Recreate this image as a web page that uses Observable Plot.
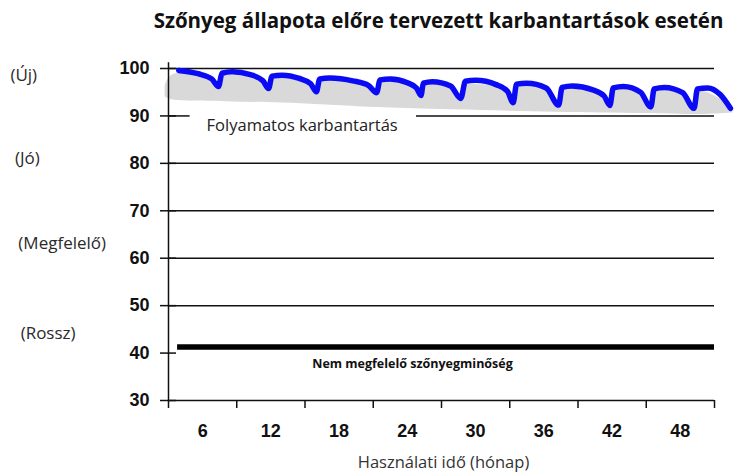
<!DOCTYPE html>
<html><head><meta charset="utf-8">
<script src="https://cdn.jsdelivr.net/npm/d3@7"></script>
<script src="https://cdn.jsdelivr.net/npm/@observablehq/plot@0.6"></script>
<style>body{margin:0;background:#fff} svg{display:block}</style>
</head><body><div id="chart"></div>
<script>
const chartTitle = "Szőnyeg állapota előre tervezett karbantartások esetén";
const xTitle = "Használati idő (hónap)";
const bandLabel = "Folyamatos karbantartás";
const thresholdLabel = "Nem megfelelő szőnyegminőség";
const sideLabels = ["(Új)", "(Jó)", "(Megfelelő)", "(Rossz)"];
const sideLabelLevels = [98.5, 81, 63, 44.2];

const yTicks = [30, 40, 50, 60, 70, 80, 90, 100];
const gridLevels = [50, 60, 70, 80, 100];
const xBoundaries = [0, 6, 12, 18, 24, 30, 36, 42, 48];
const xLabelCenters = [3, 9, 15, 21, 27, 33, 39, 45];
const xLabels = ["6", "12", "18", "24", "30", "36", "42", "48"];
const thresholdLevel = 41.3;

// Blue condition line (month, condition)
const conditionMonths = [0.9, 2.6, 3.8, 4.4, 4.7, 5.6, 7.2, 8.3, 8.8, 9.1, 10.0, 11.5, 12.5, 13.0, 13.3, 14.2, 16.2, 17.6, 18.3, 18.6, 19.5, 21.0, 21.8, 22.2, 22.4, 23.2, 24.8, 25.7, 26.1, 27.0, 28.8, 29.8, 30.3, 30.6, 31.5, 33.2, 34.3, 34.6, 35.5, 37.3, 38.3, 38.8, 39.1, 40.0, 41.5, 42.4, 42.7, 43.6, 45.2, 46.2, 46.5, 47.4, 48.5, 49.4];
const conditionValues = [99.6, 98.9, 97.8, 96.2, 99.0, 99.3, 98.7, 97.4, 95.8, 98.4, 98.6, 97.9, 96.8, 95.1, 97.8, 98.0, 97.4, 96.4, 94.9, 97.6, 97.8, 97.0, 95.9, 94.3, 96.9, 97.2, 96.3, 93.7, 97.3, 97.5, 96.6, 95.2, 92.8, 96.7, 96.9, 95.9, 92.3, 96.0, 96.3, 95.5, 94.2, 92.2, 95.9, 96.2, 95.0, 91.9, 95.7, 96.0, 94.9, 91.6, 95.7, 95.9, 94.5, 91.6];

// Gray band (continuous maintenance)
const bandMonths = [-0.3, 0.3, 5, 10, 17, 25, 34, 42, 47, 49.6];
const bandHigh = [96.3, 98.6, 98.6, 98.0, 97.4, 96.8, 96.1, 95.6, 95.2, 92.0];
const bandLow = [94.0, 93.4, 93.0, 92.7, 91.9, 91.3, 90.8, 90.5, 90.3, 90.6];

const condition = conditionMonths.map((m, i) => ({month: m, value: conditionValues[i]}));
const band = bandMonths.map((m, i) => ({month: m, low: bandLow[i], high: bandHigh[i]}));
const side = sideLabels.map((t, i) => ({text: t, level: sideLabelLevels[i]}));
const sideStart = [-13.9, -13.5, -13.2, -13.0];

const chart = Plot.plot({
  width: 734,
  height: 476,
  marginLeft: 168,
  marginRight: 20,
  marginTop: 68,
  marginBottom: 76,
  style: {fontFamily: "Liberation Sans, Arial, sans-serif", background: "#fff"},
  x: {domain: [0, 48], axis: null},
  y: {domain: [30, 100], axis: null},
  marks: [
    Plot.areaY(band, {x: "month", y1: "low", y2: "high", fill: "#d9d9d9", curve: "catmull-rom"}),
    Plot.areaY(condition, {x: "month", y1: "value", y2: 99.85, fill: "white", curve: "monotone-x"}),
    Plot.ruleY(gridLevels, {x1: 0, x2: 48, stroke: "#111", strokeWidth: 1.5}),
    Plot.ruleY([90], {x1: 0, x2: 1.9, stroke: "#111", strokeWidth: 1.5}),
    Plot.ruleY([90], {x1: 21.8, x2: 48, stroke: "#111", strokeWidth: 1.5}),
    Plot.ruleY([thresholdLevel], {x1: 0.8, x2: 48, stroke: "#000", strokeWidth: 5.5}),
    Plot.ruleX([0], {y1: 30, y2: 101.2, stroke: "#111", strokeWidth: 1.5}),
    Plot.ruleY([30], {x1: 0, x2: 48, stroke: "#111", strokeWidth: 1.5}),
    Plot.axisY({ticks: yTicks, tickSize: 16, dx: 8, tickPadding: 11, stroke: "#111", strokeWidth: 1.5, label: null,
      fontSize: 18, fontWeight: "bold", fill: "#111", tickFormat: d => String(d)}),
    Plot.axisX({ticks: xBoundaries, tickSize: 8, tickFormat: () => "", stroke: "#111", strokeWidth: 1.5, label: null}),
    Plot.axisX({ticks: xLabelCenters, tickSize: 0, tickPadding: 24, tickFormat: (d, i) => xLabels[i], label: null,
      fontSize: 18, fontWeight: "bold", fill: "#111"}),
    Plot.line(condition, {x: "month", y: "value", stroke: "#0a0af5", strokeWidth: 5.5, curve: "monotone-x", strokeLinejoin: "round", strokeLinecap: "round"}),
    Plot.text([bandLabel], {x: 11.75, y: 88.0, text: d => d, fontSize: 16.5, fontFamily: "Open Sans", fill: "#222"}),
    Plot.text([thresholdLabel], {x: 21.45, y: thresholdLevel, dy: 17, text: d => d, fontSize: 12.5, fontWeight: "bold", fontFamily: "Open Sans", fill: "#111"}),
    Plot.text(side, {x: (d, i) => sideStart[i], y: "level", text: "text", textAnchor: "start", fontSize: 17, fontFamily: "Open Sans", fill: "#2a2a2a"}),
    Plot.text([chartTitle], {frameAnchor: "top", dy: -55, dx: -3, text: d => d, fontSize: 20.5, fontWeight: "bold", fontFamily: "Open Sans", fill: "#111"}),
    Plot.text([xTitle], {frameAnchor: "bottom", dy: 67, dx: 2, text: d => d, fontSize: 16.5, fontFamily: "Open Sans", fill: "#333"})
  ]
});
document.getElementById("chart").appendChild(chart);
</script>
</body></html>
